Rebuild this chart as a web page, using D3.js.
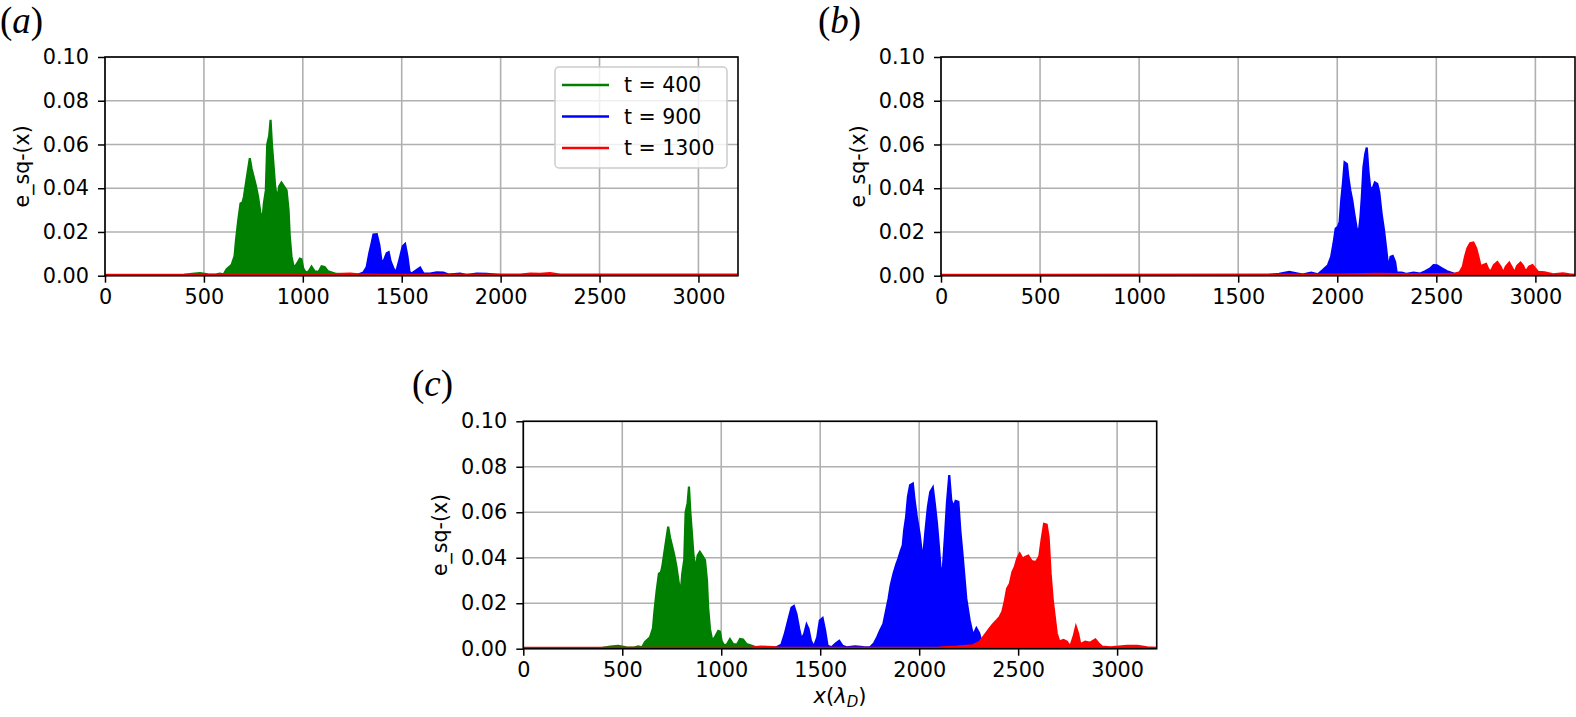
<!DOCTYPE html>
<html>
<head>
<meta charset="utf-8">
<script src="https://cdn.jsdelivr.net/npm/d3@7"></script>
<style>
  body { margin: 0; background: #fff; }
  svg { display: block; }
  text { font-family: "DejaVu Sans", sans-serif; }
</style>
</head>
<body>
<svg width="1576" height="717"></svg>
<script>
// envelope of e_sq-(x): [x, value]
const green400 = [[0,0.0003],[400,0.0004],[440,0.0009],[480,0.0012],[520,0.0006],[560,0.0005],[580,0.001],[600,0.0006],[615,0.003],[640,0.005],[655,0.009],[662,0.016],[673,0.025],[685,0.033],[695,0.0335],[702,0.036],[712,0.042],[724,0.049],[732,0.0537],[741,0.049],[752,0.045],[763,0.041],[774,0.036],[786,0.0285],[796,0.0255],[803,0.033],[813,0.039],[820,0.06],[830,0.064],[837,0.0713],[844,0.06],[850,0.053],[860,0.041],[870,0.035],[881,0.041],[892,0.0426],[904,0.041],[918,0.039],[928,0.030],[934,0.018],[943,0.0087],[955,0.0034],[971,0.0056],[985,0.0078],[993,0.0075],[1002,0.0034],[1015,0.0014],[1030,0.002],[1044,0.0042],[1060,0.002],[1080,0.0018],[1095,0.0043],[1110,0.004],[1128,0.002],[1170,0.0008],[1250,0.0005],[1300,0.0003],[3200,0.0002]];

const blueA = [[0,0.0002],[1200,0.0003],[1281,0.0005],[1306,0.0014],[1323,0.004],[1336,0.0103],[1348,0.015],[1357,0.0188],[1374,0.019],[1387,0.014],[1399,0.0057],[1411,0.0072],[1424,0.0103],[1434,0.0108],[1444,0.0065],[1458,0.0034],[1471,0.0014],[1488,0.0072],[1505,0.0134],[1517,0.0145],[1529,0.0088],[1539,0.0018],[1551,0.001],[1576,0.0026],[1593,0.0037],[1610,0.001],[1643,0.001],[1677,0.0015],[1711,0.0014],[1736,0.0005],[1795,0.001],[1829,0.0003],[1879,0.001],[1930,0.0008],[2000,0.0003],[3200,0.0002]];

const redA = [[0,0.0004],[1000,0.0004],[1150,0.0006],[1200,0.0009],[1240,0.001],[1280,0.0006],[1400,0.0004],[2100,0.0005],[2150,0.001],[2200,0.0008],[2250,0.0012],[2300,0.0005],[2700,0.0005],[3200,0.0005]];

const blueB = [[0,0.0002],[1650,0.0003],[1707,0.0008],[1758,0.0018],[1800,0.001],[1825,0.0005],[1868,0.0014],[1902,0.0006],[1927,0.0026],[1953,0.0048],[1969,0.0086],[1981,0.0147],[1992,0.0215],[2003,0.0223],[2012,0.0245],[2020,0.0344],[2029,0.0427],[2037,0.0518],[2049,0.051],[2056,0.045],[2066,0.039],[2076,0.0344],[2086,0.0283],[2097,0.0223],[2107,0.0185],[2117,0.0268],[2124,0.0359],[2132,0.0495],[2141,0.0556],[2149,0.0586],[2158,0.0473],[2166,0.0405],[2178,0.0397],[2190,0.0427],[2202,0.042],[2212,0.0382],[2224,0.0283],[2236,0.0208],[2246,0.0132],[2258,0.0033],[2269,0.0086],[2280,0.009],[2292,0.0064],[2300,0.0014],[2325,0.0014],[2351,0.0008],[2385,0.0014],[2419,0.001],[2444,0.002],[2469,0.0033],[2486,0.0048],[2503,0.0047],[2529,0.0033],[2554,0.002],[2588,0.001],[2622,0.0004],[3200,0.0002]];

const redB = [[0,0.0004],[2000,0.0005],[2200,0.0008],[2400,0.0006],[2587,0.0008],[2617,0.0015],[2634,0.0042],[2645,0.0088],[2657,0.0126],[2671,0.0149],[2687,0.0152],[2701,0.0126],[2712,0.0088],[2724,0.0042],[2737,0.0049],[2751,0.0054],[2763,0.0029],[2774,0.0018],[2791,0.0049],[2808,0.0062],[2824,0.0042],[2838,0.0014],[2851,0.0042],[2868,0.006],[2881,0.0038],[2895,0.0015],[2908,0.0045],[2925,0.006],[2938,0.0045],[2951,0.0018],[2968,0.0042],[2985,0.0049],[2998,0.0034],[3013,0.0018],[3047,0.0015],[3089,0.0006],[3139,0.0011],[3172,0.0006],[3200,0.0004]];

const blueC = [[0,0.0002],[1200,0.0003],[1279,0.0006],[1304,0.0018],[1321,0.0065],[1338,0.0124],[1355,0.018],[1367,0.0188],[1380,0.0153],[1394,0.0087],[1405,0.0043],[1419,0.0065],[1431,0.0106],[1441,0.0087],[1453,0.0035],[1468,0.0009],[1485,0.005],[1498,0.0124],[1512,0.0135],[1525,0.0079],[1537,0.0013],[1557,0.0006],[1579,0.0024],[1596,0.0035],[1613,0.0013],[1633,0.0006],[1676,0.001],[1718,0.0007],[1752,0.0006],[1772,0.0024],[1789,0.0053],[1802,0.0079],[1819,0.0109],[1833,0.0168],[1845,0.0219],[1856,0.0278],[1870,0.0329],[1884,0.037],[1895,0.0396],[1907,0.043],[1917,0.0454],[1924,0.052],[1934,0.058],[1943,0.0668],[1954,0.0719],[1968,0.0726],[1976,0.066],[1988,0.058],[2002,0.0506],[2012,0.0432],[2022,0.0425],[2032,0.052],[2044,0.0624],[2056,0.069],[2069,0.0709],[2079,0.0638],[2090,0.055],[2100,0.0447],[2110,0.0329],[2120,0.0359],[2132,0.052],[2140,0.0638],[2152,0.0763],[2162,0.0653],[2174,0.0624],[2184,0.065],[2198,0.0646],[2208,0.052],[2220,0.0405],[2238,0.022],[2255,0.0125],[2272,0.0058],[2289,0.009],[2303,0.0068],[2318,0.002],[2400,0.0005],[3200,0.0002]];

const redC = [[0,0.0004],[1150,0.0005],[1200,0.0009],[1260,0.0007],[1300,0.0004],[2100,0.0005],[2191,0.0009],[2271,0.0015],[2305,0.003],[2331,0.006],[2356,0.0089],[2373,0.0108],[2393,0.0126],[2407,0.014],[2420,0.0162],[2432,0.0206],[2444,0.0264],[2458,0.0286],[2471,0.0337],[2483,0.0359],[2495,0.0396],[2508,0.0418],[2522,0.0396],[2536,0.0403],[2551,0.0409],[2568,0.0385],[2590,0.0381],[2607,0.0406],[2619,0.0483],[2631,0.0549],[2644,0.0546],[2654,0.049],[2664,0.033],[2675,0.0213],[2685,0.014],[2695,0.0067],[2708,0.0031],[2729,0.0038],[2746,0.0031],[2763,0.0009],[2780,0.0053],[2792,0.0096],[2803,0.0067],[2814,0.002],[2839,0.0031],[2864,0.0026],[2890,0.0041],[2907,0.0023],[2924,0.0009],[2966,0.0006],[3051,0.0012],[3102,0.0012],[3152,0.0006],[3200,0.0004]];

const xTicks = [0, 500, 1000, 1500, 2000, 2500, 3000];
const yTicks = [0, 0.02, 0.04, 0.06, 0.08, 0.10];
const legendLabels = ["t = 400", "t = 900", "t = 1300"];
const colors = ["#008000", "#0000ff", "#ff0000"];

const panels = [
    { id: "a", left: 105, top: 57, w: 633, h: 218.7, series: [green400, blueA, redA], legend: true, xlabel: false, labelX: 0, labelY: 33 },
    { id: "b", left: 941, top: 57, w: 634, h: 218.7, series: [null, blueB, redB], legend: false, xlabel: false, labelX: 818, labelY: 33 },
    { id: "c", left: 523.3, top: 421.3, w: 633.4, h: 227.4, series: [green400, blueC, redC], legend: false, xlabel: true, labelX: 412, labelY: 396 }
];

const svg = d3.select("svg");

panels.forEach(p => {
    const x = d3.scaleLinear().domain([0, 3200]).range([0, p.w]);
    const y = d3.scaleLinear().domain([0, 0.1]).range([p.h, 0]);

    const g = svg.append("g").attr("transform", `translate(${p.left},${p.top})`);

    g.append("clipPath").attr("id", "clip-" + p.id)
    .append("rect").attr("width", p.w).attr("height", p.h);

    // grid
    g.append("g").selectAll("line").data(xTicks).join("line")
    .attr("x1", d => x(d)).attr("x2", d => x(d))
    .attr("y1", 0).attr("y2", p.h)
    .attr("stroke", "#b0b0b0").attr("stroke-width", 1.6);
    g.append("g").selectAll("line").data(yTicks).join("line")
    .attr("x1", 0).attr("x2", p.w)
    .attr("y1", d => y(d)).attr("y2", d => y(d))
    .attr("stroke", "#b0b0b0").attr("stroke-width", 1.6);

    // series
    const area = d3.area().x(d => x(d[0])).y0(y(0)).y1(d => y(d[1]));
    const line = d3.line().x(d => x(d[0])).y(d => y(d[1]));
    const plot = g.append("g").attr("clip-path", `url(#clip-${p.id})`);
    p.series.forEach((s, i) => {
        if (!s) return;
        plot.append("path").datum(s)
        .attr("d", area)
        .attr("fill", colors[i]);
        plot.append("path").datum(s)
        .attr("d", line)
        .attr("fill", "none")
        .attr("stroke", colors[i])
        .attr("stroke-width", 2.2)
        .attr("stroke-linejoin", "miter");
    });

    // axes
    const xAxis = g.append("g").attr("transform", `translate(0,${p.h})`)
    .call(d3.axisBottom(x).tickValues(xTicks).tickSize(7).tickPadding(7).tickFormat(d3.format("d")));
    const yAxis = g.append("g")
    .call(d3.axisLeft(y).tickValues(yTicks).tickSize(7).tickPadding(9).tickFormat(d3.format(".2f")));
    [xAxis, yAxis].forEach(a => {
        a.select(".domain").remove();
        a.selectAll("line").attr("stroke", "#000").attr("stroke-width", 1.5);
        a.selectAll("text").attr("font-size", 20.8).attr("fill", "#000")
        .style("font-family", "DejaVu Sans");
    });

    // frame
    g.append("rect").attr("width", p.w).attr("height", p.h)
    .attr("fill", "none").attr("stroke", "#000").attr("stroke-width", 1.6);

    // y label
    g.append("text")
    .attr("transform", `translate(-76,${p.h / 2}) rotate(-90)`)
    .attr("text-anchor", "middle")
    .attr("font-size", 20.5)
    .text("e_sq-(x)");

    if (p.xlabel) {
        const t = g.append("text")
        .attr("x", p.w / 2).attr("y", p.h + 54)
        .attr("text-anchor", "middle")
        .attr("font-size", 21);
        t.append("tspan").attr("font-style", "italic").text("x");
        t.append("tspan").text("(");
        t.append("tspan").attr("font-style", "italic").text("λ");
        t.append("tspan").attr("font-style", "italic").attr("font-size", 15).attr("dy", 4).text("D");
        t.append("tspan").attr("dy", -4).text(")");
    }

    if (p.legend) {
        const lg = g.append("g").attr("transform", `translate(${p.w - 183},10)`);
        lg.append("rect").attr("width", 172).attr("height", 101).attr("rx", 4)
        .attr("fill", "#fff").attr("fill-opacity", 0.8)
        .attr("stroke", "#cccccc").attr("stroke-width", 1.5);
        legendLabels.forEach((lab, i) => {
            const yy = 18 + i * 31.5;
            lg.append("line").attr("x1", 7).attr("x2", 54).attr("y1", yy).attr("y2", yy)
            .attr("stroke", colors[i]).attr("stroke-width", 2.5);
            lg.append("text").attr("x", 69).attr("y", yy + 7).attr("font-size", 20.5).text(lab);
        });
    }

    // panel label
    const pl = svg.append("text").attr("x", p.labelX).attr("y", p.labelY)
    .attr("font-size", 37).style("font-family", "Liberation Serif");
    pl.append("tspan").text("(");
    pl.append("tspan").attr("font-style", "italic").text(p.id);
    pl.append("tspan").text(")");
});
</script>
</body>
</html>
